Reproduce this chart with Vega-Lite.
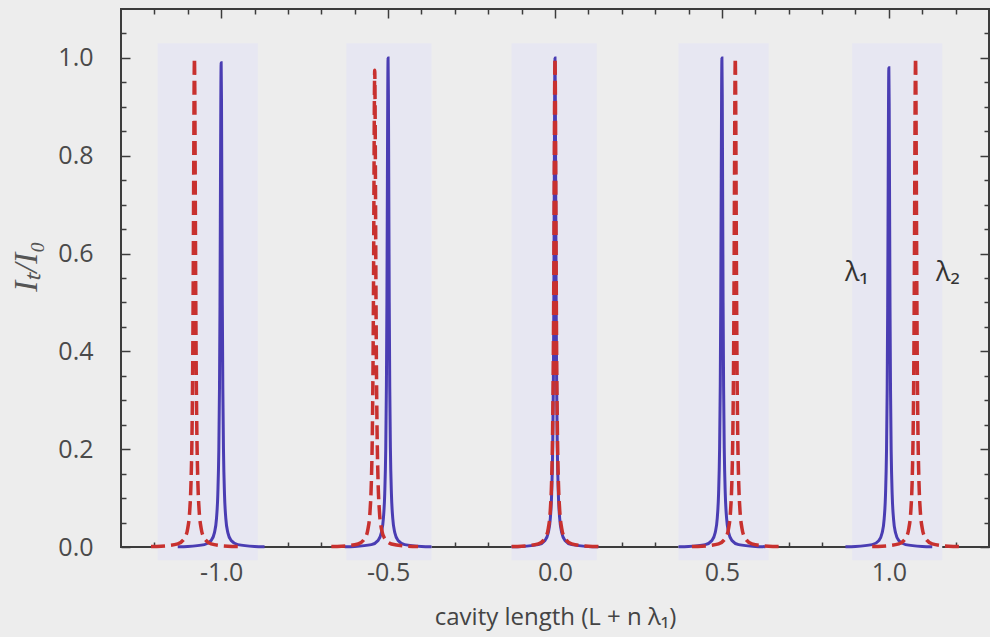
{
  "$schema": "https://vega.github.io/schema/vega-lite/v6.json",
  "width": 868,
  "height": 538,
  "autosize": {"type": "none"},
  "padding": {"left": 121, "top": 9, "right": 1, "bottom": 90},
  "background": "#ededed",
  "config": {
    "view": {"stroke": "#3c3c3c", "strokeWidth": 2},
    "axis": {"domain": false, "grid": false, "labelFont": "Open Sans", "titleFont": "Open Sans", "tickColor": "#3c3c3c", "tickWidth": 1.5}
  },
  "datasets": {
    "bands": [
      {"x0": -1.19, "x1": -0.89, "y0": -0.027, "y1": 1.03},
      {"x0": -0.625, "x1": -0.37, "y0": -0.027, "y1": 1.03},
      {"x0": -0.13, "x1": 0.125, "y0": -0.027, "y1": 1.03},
      {"x0": 0.37, "x1": 0.64, "y0": -0.027, "y1": 1.03},
      {"x0": 0.89, "x1": 1.16, "y0": -0.027, "y1": 1.03}
    ],
    "blue": [
      {"p": 1, "x": -1.13, "y": 0.0007}, {"p": 1, "x": -1.1, "y": 0.0012}, {"p": 1, "x": -1.05, "y": 0.0049}, {"p": 1, "x": -1.03, "y": 0.0133}, {"p": 1, "x": -1.02, "y": 0.0294}, {"p": 1, "x": -1.014, "y": 0.0582}, {"p": 1, "x": -1.01, "y": 0.108}, {"p": 1, "x": -1.007, "y": 0.198}, {"p": 1, "x": -1.005, "y": 0.3256}, {"p": 1, "x": -1.0035, "y": 0.495}, {"p": 1, "x": -1.002, "y": 0.7463}, {"p": 1, "x": -1.001, "y": 0.9153}, {"p": 1, "x": -1.0, "y": 0.99}, {"p": 1, "x": -0.999, "y": 0.9153}, {"p": 1, "x": -0.998, "y": 0.7463}, {"p": 1, "x": -0.9965, "y": 0.495}, {"p": 1, "x": -0.995, "y": 0.3256}, {"p": 1, "x": -0.993, "y": 0.198}, {"p": 1, "x": -0.99, "y": 0.108}, {"p": 1, "x": -0.986, "y": 0.0582}, {"p": 1, "x": -0.98, "y": 0.0294}, {"p": 1, "x": -0.97, "y": 0.0133}, {"p": 1, "x": -0.95, "y": 0.0049}, {"p": 1, "x": -0.9, "y": 0.0012}, {"p": 1, "x": -0.87, "y": 0.0007},
      {"p": 2, "x": -0.63, "y": 0.0007}, {"p": 2, "x": -0.6, "y": 0.0012}, {"p": 2, "x": -0.55, "y": 0.0049}, {"p": 2, "x": -0.53, "y": 0.0134}, {"p": 2, "x": -0.52, "y": 0.0297}, {"p": 2, "x": -0.514, "y": 0.0588}, {"p": 2, "x": -0.51, "y": 0.1091}, {"p": 2, "x": -0.507, "y": 0.2}, {"p": 2, "x": -0.505, "y": 0.3289}, {"p": 2, "x": -0.5035, "y": 0.5}, {"p": 2, "x": -0.502, "y": 0.7538}, {"p": 2, "x": -0.501, "y": 0.9245}, {"p": 2, "x": -0.5, "y": 1.0}, {"p": 2, "x": -0.499, "y": 0.9245}, {"p": 2, "x": -0.498, "y": 0.7538}, {"p": 2, "x": -0.4965, "y": 0.5}, {"p": 2, "x": -0.495, "y": 0.3289}, {"p": 2, "x": -0.493, "y": 0.2}, {"p": 2, "x": -0.49, "y": 0.1091}, {"p": 2, "x": -0.486, "y": 0.0588}, {"p": 2, "x": -0.48, "y": 0.0297}, {"p": 2, "x": -0.47, "y": 0.0134}, {"p": 2, "x": -0.45, "y": 0.0049}, {"p": 2, "x": -0.4, "y": 0.0012}, {"p": 2, "x": -0.37, "y": 0.0007},
      {"p": 3, "x": -0.13, "y": 0.0007}, {"p": 3, "x": -0.1, "y": 0.0012}, {"p": 3, "x": -0.05, "y": 0.0049}, {"p": 3, "x": -0.03, "y": 0.0134}, {"p": 3, "x": -0.02, "y": 0.0297}, {"p": 3, "x": -0.014, "y": 0.0588}, {"p": 3, "x": -0.01, "y": 0.1091}, {"p": 3, "x": -0.007, "y": 0.2}, {"p": 3, "x": -0.005, "y": 0.3289}, {"p": 3, "x": -0.0035, "y": 0.5}, {"p": 3, "x": -0.002, "y": 0.7538}, {"p": 3, "x": -0.001, "y": 0.9245}, {"p": 3, "x": 0.0, "y": 1.0}, {"p": 3, "x": 0.001, "y": 0.9245}, {"p": 3, "x": 0.002, "y": 0.7538}, {"p": 3, "x": 0.0035, "y": 0.5}, {"p": 3, "x": 0.005, "y": 0.3289}, {"p": 3, "x": 0.007, "y": 0.2}, {"p": 3, "x": 0.01, "y": 0.1091}, {"p": 3, "x": 0.014, "y": 0.0588}, {"p": 3, "x": 0.02, "y": 0.0297}, {"p": 3, "x": 0.03, "y": 0.0134}, {"p": 3, "x": 0.05, "y": 0.0049}, {"p": 3, "x": 0.1, "y": 0.0012}, {"p": 3, "x": 0.13, "y": 0.0007},
      {"p": 4, "x": 0.37, "y": 0.0007}, {"p": 4, "x": 0.4, "y": 0.0012}, {"p": 4, "x": 0.45, "y": 0.0049}, {"p": 4, "x": 0.47, "y": 0.0134}, {"p": 4, "x": 0.48, "y": 0.0297}, {"p": 4, "x": 0.486, "y": 0.0588}, {"p": 4, "x": 0.49, "y": 0.1091}, {"p": 4, "x": 0.493, "y": 0.2}, {"p": 4, "x": 0.495, "y": 0.3289}, {"p": 4, "x": 0.4965, "y": 0.5}, {"p": 4, "x": 0.498, "y": 0.7538}, {"p": 4, "x": 0.499, "y": 0.9245}, {"p": 4, "x": 0.5, "y": 1.0}, {"p": 4, "x": 0.501, "y": 0.9245}, {"p": 4, "x": 0.502, "y": 0.7538}, {"p": 4, "x": 0.5035, "y": 0.5}, {"p": 4, "x": 0.505, "y": 0.3289}, {"p": 4, "x": 0.507, "y": 0.2}, {"p": 4, "x": 0.51, "y": 0.1091}, {"p": 4, "x": 0.514, "y": 0.0588}, {"p": 4, "x": 0.52, "y": 0.0297}, {"p": 4, "x": 0.53, "y": 0.0134}, {"p": 4, "x": 0.55, "y": 0.0049}, {"p": 4, "x": 0.6, "y": 0.0012}, {"p": 4, "x": 0.63, "y": 0.0007},
      {"p": 5, "x": 0.87, "y": 0.0007}, {"p": 5, "x": 0.9, "y": 0.0012}, {"p": 5, "x": 0.95, "y": 0.0048}, {"p": 5, "x": 0.97, "y": 0.0131}, {"p": 5, "x": 0.98, "y": 0.0291}, {"p": 5, "x": 0.986, "y": 0.0576}, {"p": 5, "x": 0.99, "y": 0.1069}, {"p": 5, "x": 0.993, "y": 0.196}, {"p": 5, "x": 0.995, "y": 0.3223}, {"p": 5, "x": 0.9965, "y": 0.49}, {"p": 5, "x": 0.998, "y": 0.7387}, {"p": 5, "x": 0.999, "y": 0.906}, {"p": 5, "x": 1.0, "y": 0.98}, {"p": 5, "x": 1.001, "y": 0.906}, {"p": 5, "x": 1.002, "y": 0.7387}, {"p": 5, "x": 1.0035, "y": 0.49}, {"p": 5, "x": 1.005, "y": 0.3223}, {"p": 5, "x": 1.007, "y": 0.196}, {"p": 5, "x": 1.01, "y": 0.1069}, {"p": 5, "x": 1.014, "y": 0.0576}, {"p": 5, "x": 1.02, "y": 0.0291}, {"p": 5, "x": 1.03, "y": 0.0131}, {"p": 5, "x": 1.05, "y": 0.0048}, {"p": 5, "x": 1.1, "y": 0.0012}, {"p": 5, "x": 1.13, "y": 0.0007}
    ],
    "red": [
      {"p": 1, "x": -1.21, "y": 0.0009}, {"p": 1, "x": -1.18, "y": 0.0016}, {"p": 1, "x": -1.13, "y": 0.0064}, {"p": 1, "x": -1.11, "y": 0.0175}, {"p": 1, "x": -1.1, "y": 0.0385}, {"p": 1, "x": -1.094, "y": 0.0755}, {"p": 1, "x": -1.09, "y": 0.1379}, {"p": 1, "x": -1.087, "y": 0.2462}, {"p": 1, "x": -1.085, "y": 0.3902}, {"p": 1, "x": -1.0835, "y": 0.5664}, {"p": 1, "x": -1.082, "y": 0.8}, {"p": 1, "x": -1.081, "y": 0.9412}, {"p": 1, "x": -1.08, "y": 1.0}, {"p": 1, "x": -1.079, "y": 0.9412}, {"p": 1, "x": -1.078, "y": 0.8}, {"p": 1, "x": -1.0765, "y": 0.5664}, {"p": 1, "x": -1.075, "y": 0.3902}, {"p": 1, "x": -1.073, "y": 0.2462}, {"p": 1, "x": -1.07, "y": 0.1379}, {"p": 1, "x": -1.066, "y": 0.0755}, {"p": 1, "x": -1.06, "y": 0.0385}, {"p": 1, "x": -1.05, "y": 0.0175}, {"p": 1, "x": -1.03, "y": 0.0064}, {"p": 1, "x": -0.98, "y": 0.0016}, {"p": 1, "x": -0.95, "y": 0.0009},
      {"p": 2, "x": -0.67, "y": 0.0009}, {"p": 2, "x": -0.64, "y": 0.0016}, {"p": 2, "x": -0.59, "y": 0.0062}, {"p": 2, "x": -0.57, "y": 0.0171}, {"p": 2, "x": -0.56, "y": 0.0375}, {"p": 2, "x": -0.554, "y": 0.0736}, {"p": 2, "x": -0.55, "y": 0.1345}, {"p": 2, "x": -0.547, "y": 0.24}, {"p": 2, "x": -0.545, "y": 0.3804}, {"p": 2, "x": -0.5435, "y": 0.5522}, {"p": 2, "x": -0.542, "y": 0.78}, {"p": 2, "x": -0.541, "y": 0.9177}, {"p": 2, "x": -0.54, "y": 0.975}, {"p": 2, "x": -0.539, "y": 0.9177}, {"p": 2, "x": -0.538, "y": 0.78}, {"p": 2, "x": -0.5365, "y": 0.5522}, {"p": 2, "x": -0.535, "y": 0.3804}, {"p": 2, "x": -0.533, "y": 0.24}, {"p": 2, "x": -0.53, "y": 0.1345}, {"p": 2, "x": -0.526, "y": 0.0736}, {"p": 2, "x": -0.52, "y": 0.0375}, {"p": 2, "x": -0.51, "y": 0.0171}, {"p": 2, "x": -0.49, "y": 0.0062}, {"p": 2, "x": -0.44, "y": 0.0016}, {"p": 2, "x": -0.41, "y": 0.0009},
      {"p": 3, "x": -0.13, "y": 0.0009}, {"p": 3, "x": -0.1, "y": 0.0016}, {"p": 3, "x": -0.05, "y": 0.0064}, {"p": 3, "x": -0.03, "y": 0.0175}, {"p": 3, "x": -0.02, "y": 0.0385}, {"p": 3, "x": -0.014, "y": 0.0755}, {"p": 3, "x": -0.01, "y": 0.1379}, {"p": 3, "x": -0.007, "y": 0.2462}, {"p": 3, "x": -0.005, "y": 0.3902}, {"p": 3, "x": -0.0035, "y": 0.5664}, {"p": 3, "x": -0.002, "y": 0.8}, {"p": 3, "x": -0.001, "y": 0.9412}, {"p": 3, "x": 0.0, "y": 1.0}, {"p": 3, "x": 0.001, "y": 0.9412}, {"p": 3, "x": 0.002, "y": 0.8}, {"p": 3, "x": 0.0035, "y": 0.5664}, {"p": 3, "x": 0.005, "y": 0.3902}, {"p": 3, "x": 0.007, "y": 0.2462}, {"p": 3, "x": 0.01, "y": 0.1379}, {"p": 3, "x": 0.014, "y": 0.0755}, {"p": 3, "x": 0.02, "y": 0.0385}, {"p": 3, "x": 0.03, "y": 0.0175}, {"p": 3, "x": 0.05, "y": 0.0064}, {"p": 3, "x": 0.1, "y": 0.0016}, {"p": 3, "x": 0.13, "y": 0.0009},
      {"p": 4, "x": 0.41, "y": 0.0009}, {"p": 4, "x": 0.44, "y": 0.0016}, {"p": 4, "x": 0.49, "y": 0.0064}, {"p": 4, "x": 0.51, "y": 0.0175}, {"p": 4, "x": 0.52, "y": 0.0385}, {"p": 4, "x": 0.526, "y": 0.0755}, {"p": 4, "x": 0.53, "y": 0.1379}, {"p": 4, "x": 0.533, "y": 0.2462}, {"p": 4, "x": 0.535, "y": 0.3902}, {"p": 4, "x": 0.5365, "y": 0.5664}, {"p": 4, "x": 0.538, "y": 0.8}, {"p": 4, "x": 0.539, "y": 0.9412}, {"p": 4, "x": 0.54, "y": 1.0}, {"p": 4, "x": 0.541, "y": 0.9412}, {"p": 4, "x": 0.542, "y": 0.8}, {"p": 4, "x": 0.5435, "y": 0.5664}, {"p": 4, "x": 0.545, "y": 0.3902}, {"p": 4, "x": 0.547, "y": 0.2462}, {"p": 4, "x": 0.55, "y": 0.1379}, {"p": 4, "x": 0.554, "y": 0.0755}, {"p": 4, "x": 0.56, "y": 0.0385}, {"p": 4, "x": 0.57, "y": 0.0175}, {"p": 4, "x": 0.59, "y": 0.0064}, {"p": 4, "x": 0.64, "y": 0.0016}, {"p": 4, "x": 0.67, "y": 0.0009},
      {"p": 5, "x": 0.95, "y": 0.0009}, {"p": 5, "x": 0.98, "y": 0.0016}, {"p": 5, "x": 1.03, "y": 0.0064}, {"p": 5, "x": 1.05, "y": 0.0175}, {"p": 5, "x": 1.06, "y": 0.0385}, {"p": 5, "x": 1.066, "y": 0.0755}, {"p": 5, "x": 1.07, "y": 0.1379}, {"p": 5, "x": 1.073, "y": 0.2462}, {"p": 5, "x": 1.075, "y": 0.3902}, {"p": 5, "x": 1.0765, "y": 0.5664}, {"p": 5, "x": 1.078, "y": 0.8}, {"p": 5, "x": 1.079, "y": 0.9412}, {"p": 5, "x": 1.08, "y": 1.0}, {"p": 5, "x": 1.081, "y": 0.9412}, {"p": 5, "x": 1.082, "y": 0.8}, {"p": 5, "x": 1.0835, "y": 0.5664}, {"p": 5, "x": 1.085, "y": 0.3902}, {"p": 5, "x": 1.087, "y": 0.2462}, {"p": 5, "x": 1.09, "y": 0.1379}, {"p": 5, "x": 1.094, "y": 0.0755}, {"p": 5, "x": 1.1, "y": 0.0385}, {"p": 5, "x": 1.11, "y": 0.0175}, {"p": 5, "x": 1.13, "y": 0.0064}, {"p": 5, "x": 1.18, "y": 0.0016}, {"p": 5, "x": 1.21, "y": 0.0009}
    ]
  },
  "layer": [
    {
      "data": {"name": "bands"},
      "mark": {"type": "rect", "color": "#e7e7f2", "clip": false},
      "encoding": {
        "x": {"field": "x0", "type": "quantitative", "scale": {"domain": [-1.3, 1.3], "nice": false, "zero": false},
          "axis": {"orient": "bottom", "values": [-1, -0.5, 0, 0.5, 1], "format": ".1f", "labelExpr": "replace(datum.label, '−', '-')", "ticks": false, "labelFontSize": 25, "labelColor": "#4a4a4a", "labelPadding": 13,
            "title": "cavity length (L + n λ₁)", "titleFontSize": 24, "titleFontWeight": "normal", "titleColor": "#444444", "titleBaseline": "alphabetic", "titleY": 77}},
        "x2": {"field": "x1"},
        "y": {"field": "y0", "type": "quantitative", "scale": {"domain": [0, 1.1], "nice": false, "zero": false},
          "axis": {"orient": "left", "values": [0, 0.2, 0.4, 0.6, 0.8, 1.0], "format": ".1f", "ticks": false, "labelFontSize": 25, "labelColor": "#4a4a4a", "labelPadding": 28,
            "title": "Iₜ/I₀", "titleFont": "Liberation Serif", "titleFontStyle": "italic", "titleFontWeight": "normal", "titleFontSize": 33, "titleColor": "#555555", "titleAngle": -90, "titleX": -95, "titleY": 257, "titleAlign": "center", "titleBaseline": "middle"}},
        "y2": {"field": "y1"}
      }
    },
    {
      "data": {"name": "blue"},
      "mark": {"type": "line", "color": "#4a3db3", "strokeWidth": 3, "interpolate": "monotone"},
      "encoding": {
        "x": {"field": "x", "type": "quantitative", "axis": {"orient": "bottom", "values": [-1, -0.5, 0, 0.5, 1], "labels": false, "title": null, "tickSize": -9}},
        "y": {"field": "y", "type": "quantitative", "axis": {"orient": "left", "values": [0, 0.2, 0.4, 0.6, 0.8, 1.0], "labels": false, "title": null, "tickSize": -9}},
        "detail": {"field": "p"}
      }
    },
    {
      "data": {"name": "red"},
      "mark": {"type": "line", "color": "#c8312f", "strokeWidth": 3.5, "strokeDash": [14, 6], "interpolate": "monotone"},
      "encoding": {
        "x": {"field": "x", "type": "quantitative", "axis": {"orient": "bottom", "values": [-1.2, -1.1, -0.9, -0.8, -0.7, -0.6, -0.4, -0.3, -0.2, -0.1, 0.1, 0.2, 0.3, 0.4, 0.6, 0.7, 0.8, 0.9, 1.1, 1.2], "labels": false, "title": null, "tickSize": -5}},
        "y": {"field": "y", "type": "quantitative", "axis": {"orient": "left", "values": [0.05, 0.1, 0.15, 0.25, 0.3, 0.35, 0.45, 0.5, 0.55, 0.65, 0.7, 0.75, 0.85, 0.9, 0.95, 1.05], "labels": false, "title": null, "tickSize": -5}},
        "detail": {"field": "p"}
      }
    },
    {
      "data": {"values": [{"x": 0.904, "y": 0.56, "t": "λ₁"}]},
      "mark": {"type": "text", "font": "Open Sans", "fontSize": 27, "color": "#333333", "baseline": "middle", "align": "center"},
      "encoding": {
        "x": {"field": "x", "type": "quantitative", "axis": {"orient": "top", "values": [-1, -0.5, 0, 0.5, 1], "labels": false, "title": null, "tickSize": -9}},
        "y": {"field": "y", "type": "quantitative", "axis": {"orient": "right", "values": [0, 0.2, 0.4, 0.6, 0.8, 1.0], "labels": false, "title": null, "tickSize": -9}},
        "text": {"field": "t"}
      }
    },
    {
      "data": {"values": [{"x": 1.177, "y": 0.56, "t": "λ₂"}]},
      "mark": {"type": "text", "font": "Open Sans", "fontSize": 27, "color": "#333333", "baseline": "middle", "align": "center"},
      "encoding": {
        "x": {"field": "x", "type": "quantitative", "axis": {"orient": "top", "values": [-1.2, -1.1, -0.9, -0.8, -0.7, -0.6, -0.4, -0.3, -0.2, -0.1, 0.1, 0.2, 0.3, 0.4, 0.6, 0.7, 0.8, 0.9, 1.1, 1.2], "labels": false, "title": null, "tickSize": -5}},
        "y": {"field": "y", "type": "quantitative", "axis": {"orient": "right", "values": [0.05, 0.1, 0.15, 0.25, 0.3, 0.35, 0.45, 0.5, 0.55, 0.65, 0.7, 0.75, 0.85, 0.9, 0.95, 1.05], "labels": false, "title": null, "tickSize": -5}},
        "text": {"field": "t"}
      }
    }
  ],
  "resolve": {"axis": {"x": "independent", "y": "independent"}}
}
